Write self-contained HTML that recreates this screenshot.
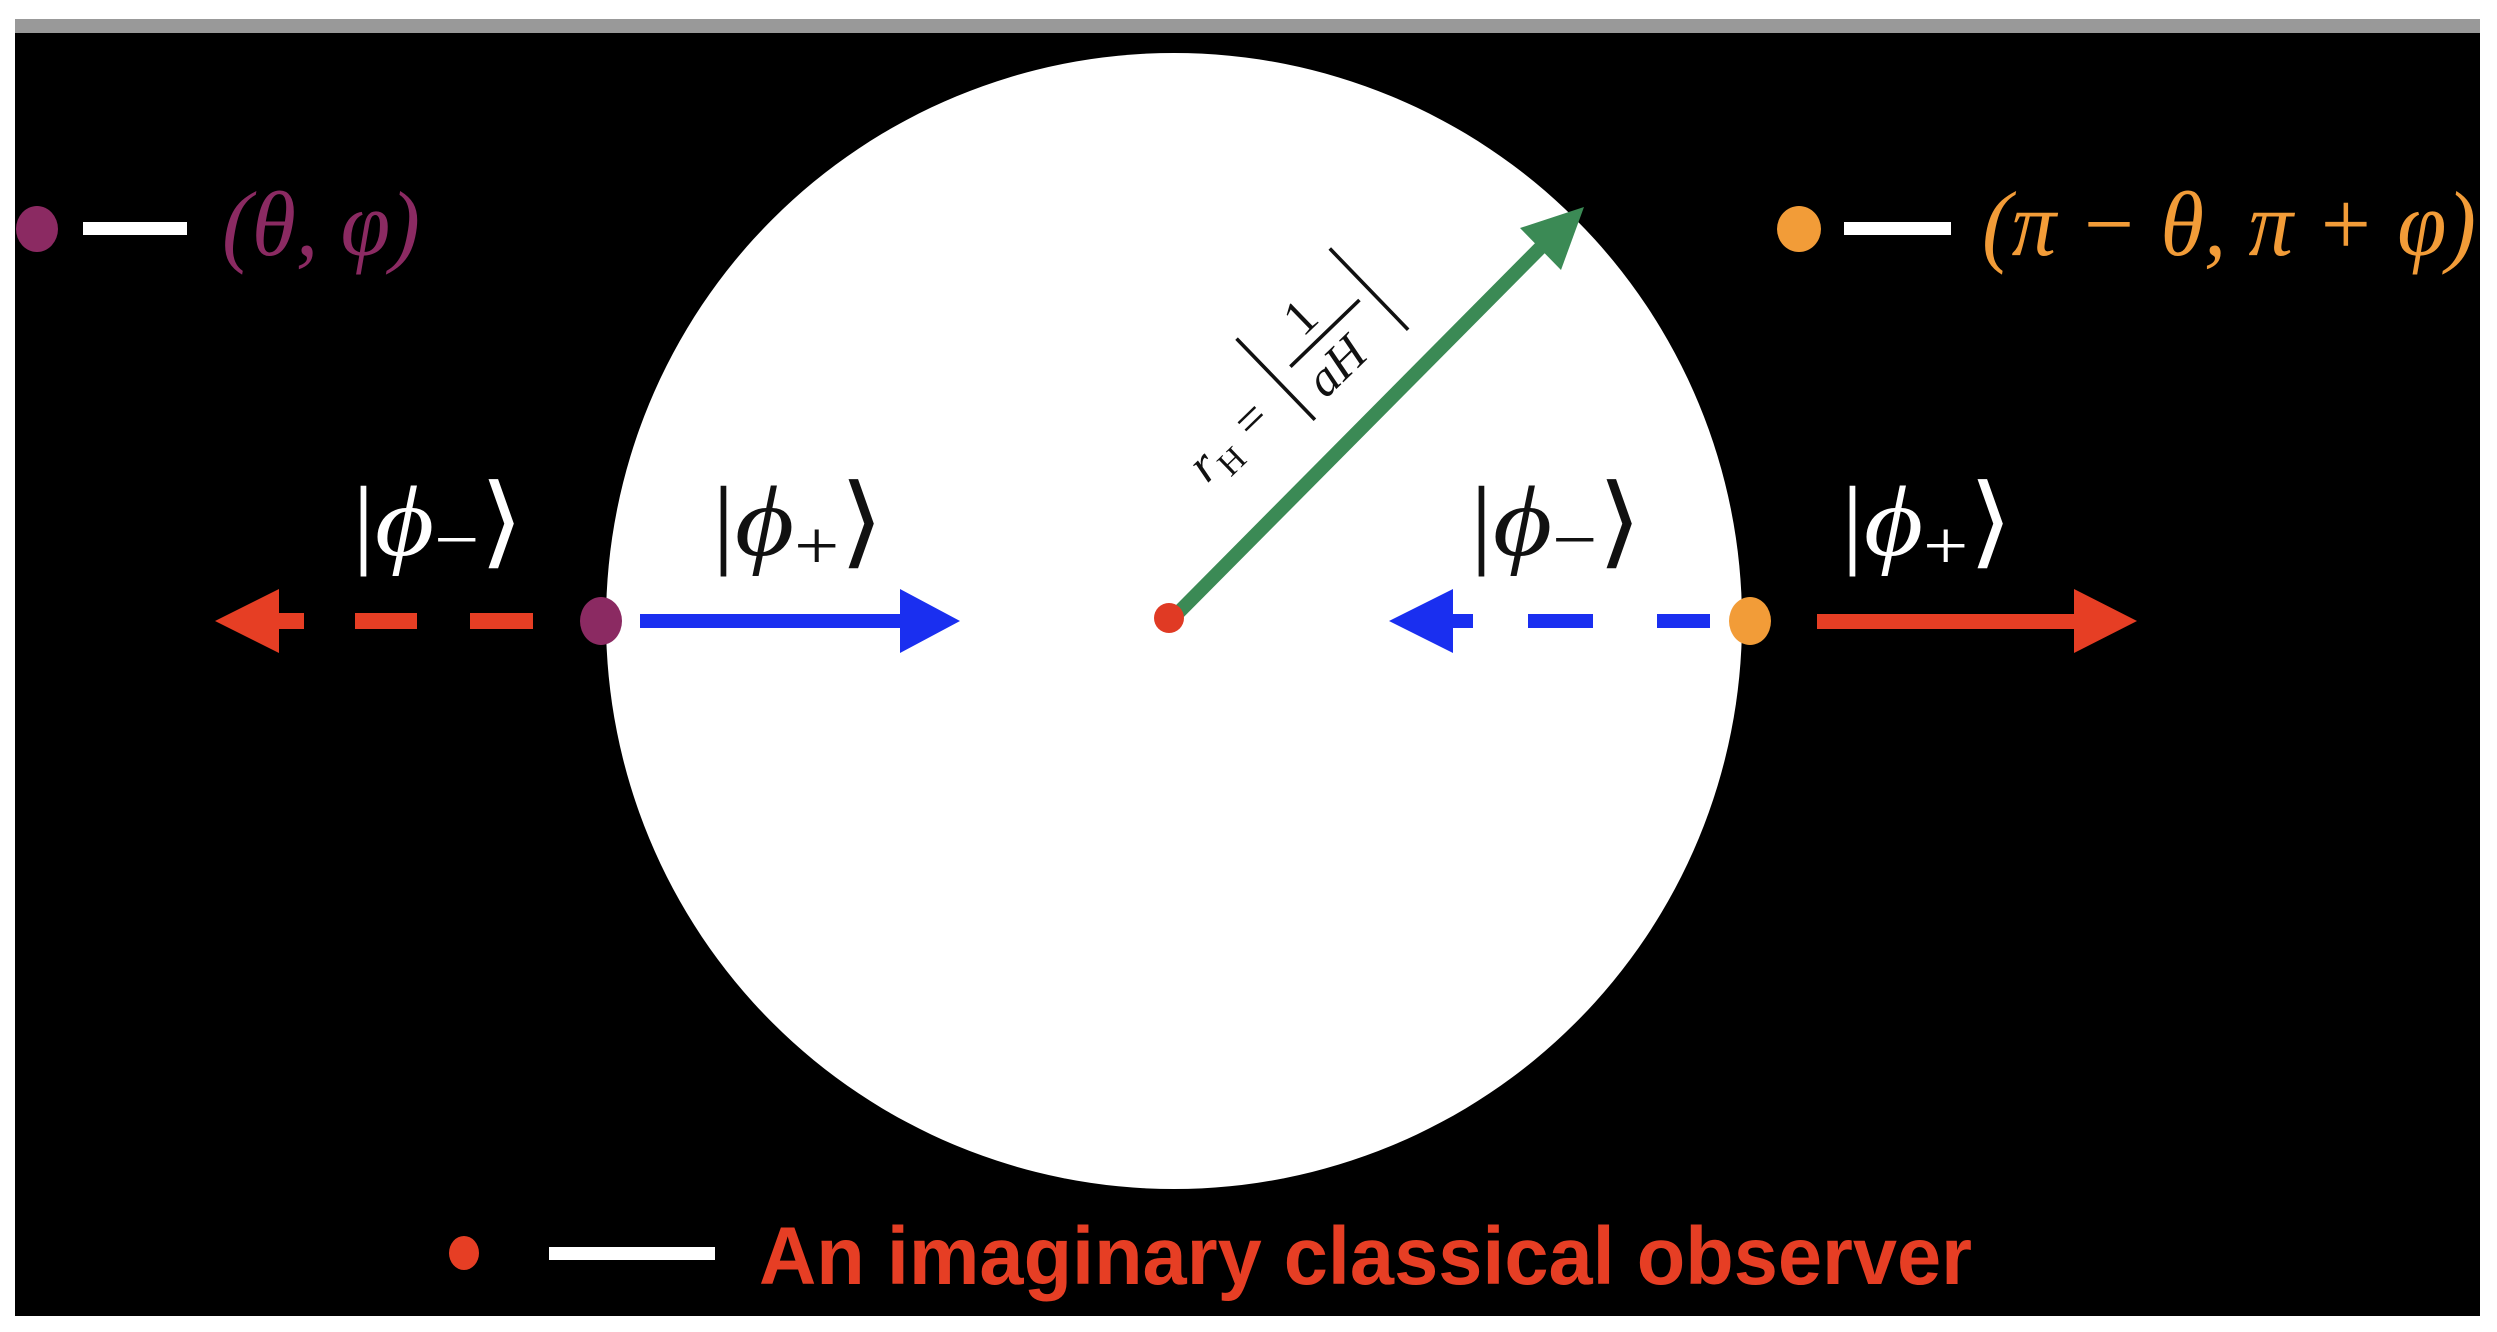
<!DOCTYPE html>
<html><head><meta charset="utf-8"><style>
html,body{margin:0;padding:0;background:#fff;}
svg{display:block;}
</style></head><body>
<svg width="2497" height="1332" viewBox="0 0 2497 1332" xmlns="http://www.w3.org/2000/svg">
<rect x="0" y="0" width="2497" height="1332" fill="#fff"/>
<rect x="15" y="19" width="2465" height="14" fill="#999"/>
<rect x="15" y="33" width="2465" height="1283" fill="#000"/>
<circle cx="1174" cy="621" r="568" fill="#fff"/>

<!-- green radius arrow -->
<line x1="1173" y1="618" x2="1545" y2="243" stroke="#3b8a55" stroke-width="14"/>
<polygon points="1584,207 1520,228 1561,270" fill="#3b8a55"/>
<circle cx="1169" cy="618" r="15" fill="#e03a24"/>

<!-- rH label -->
<g transform="translate(1318,340) rotate(-44) scale(1.2)" font-family="Liberation Serif, serif" fill="#111">
<text x="-150" y="22" font-size="42" font-style="italic">r</text>
<text x="-132" y="32" font-size="28">H</text>
<text x="-98" y="22" font-size="42">=</text>
<line x1="-48" y1="-48" x2="-48" y2="46" stroke="#111" stroke-width="3"/>
<text x="-8" y="-10" font-size="42">1</text>
<line x1="-32" y1="0" x2="48" y2="0" stroke="#111" stroke-width="3"/>
<text x="-30" y="40" font-size="42" font-style="italic">aH</text>
<line x1="60" y1="-48" x2="60" y2="46" stroke="#111" stroke-width="3"/>
</g>

<!-- left: red dashed arrow -->
<polygon points="215,621 279,589 279,653" fill="#e63e24"/>
<rect x="277" y="613" width="27" height="16" fill="#e63e24"/>
<rect x="355" y="613" width="62" height="16" fill="#e63e24"/>
<rect x="470" y="613" width="63" height="16" fill="#e63e24"/>
<!-- blue solid arrow -->
<rect x="640" y="614" width="265" height="14" fill="#1a2ff0"/>
<polygon points="960,621 900,589 900,653" fill="#1a2ff0"/>
<ellipse cx="601" cy="621" rx="21" ry="24" fill="#8b2a62"/>

<!-- right: blue dashed arrow -->
<polygon points="1389,621 1453,589 1453,653" fill="#1a2ff0"/>
<rect x="1451" y="614" width="22" height="14" fill="#1a2ff0"/>
<rect x="1528" y="614" width="65" height="14" fill="#1a2ff0"/>
<rect x="1657" y="614" width="53" height="14" fill="#1a2ff0"/>
<!-- red solid arrow -->
<rect x="1817" y="614" width="262" height="15" fill="#e63e24"/>
<polygon points="2137,621 2074,589 2074,653" fill="#e63e24"/>
<ellipse cx="1750" cy="621" rx="21" ry="24" fill="#f29c38"/>

<!-- ket labels -->
<g font-family="Liberation Serif, serif" font-size="100">
<text x="352" y="555" fill="#fff" textLength="172" lengthAdjust="spacingAndGlyphs">|<tspan font-style="italic">ϕ</tspan><tspan font-size="70" dy="8">−</tspan><tspan dy="-8">⟩</tspan></text>
<text x="712" y="555" fill="#111" textLength="172" lengthAdjust="spacingAndGlyphs">|<tspan font-style="italic">ϕ</tspan><tspan font-size="70" dy="14">+</tspan><tspan dy="-14">⟩</tspan></text>
<text x="1470" y="555" fill="#111" textLength="172" lengthAdjust="spacingAndGlyphs">|<tspan font-style="italic">ϕ</tspan><tspan font-size="70" dy="8">−</tspan><tspan dy="-8">⟩</tspan></text>
<text x="1841" y="555" fill="#fff" textLength="172" lengthAdjust="spacingAndGlyphs">|<tspan font-style="italic">ϕ</tspan><tspan font-size="70" dy="14">+</tspan><tspan dy="-14">⟩</tspan></text>
</g>

<!-- legends -->
<ellipse cx="37" cy="229" rx="21" ry="23" fill="#8b2a62"/>
<rect x="83" y="222" width="104" height="13" fill="#fff"/>
<text x="222" y="255" font-family="Liberation Serif, serif" font-style="italic" font-size="92" fill="#8b2a62" textLength="198" lengthAdjust="spacingAndGlyphs">(θ, φ)</text>

<ellipse cx="1799" cy="229" rx="22" ry="23" fill="#f29c38"/>
<rect x="1844" y="222" width="107" height="13" fill="#fff"/>
<text x="1982" y="255" font-family="Liberation Serif, serif" font-style="italic" font-size="92" fill="#f29c38" textLength="494" lengthAdjust="spacingAndGlyphs">(π − θ, π + φ)</text>

<ellipse cx="464" cy="1253" rx="15" ry="17" fill="#e63e24"/>
<rect x="549" y="1247" width="166" height="13" fill="#fff"/>
<text x="759" y="1284" font-family="Liberation Sans, sans-serif" font-weight="bold" font-size="82" fill="#e63e24" textLength="1213" lengthAdjust="spacingAndGlyphs">An imaginary classical observer</text>
</svg>
</body></html>
